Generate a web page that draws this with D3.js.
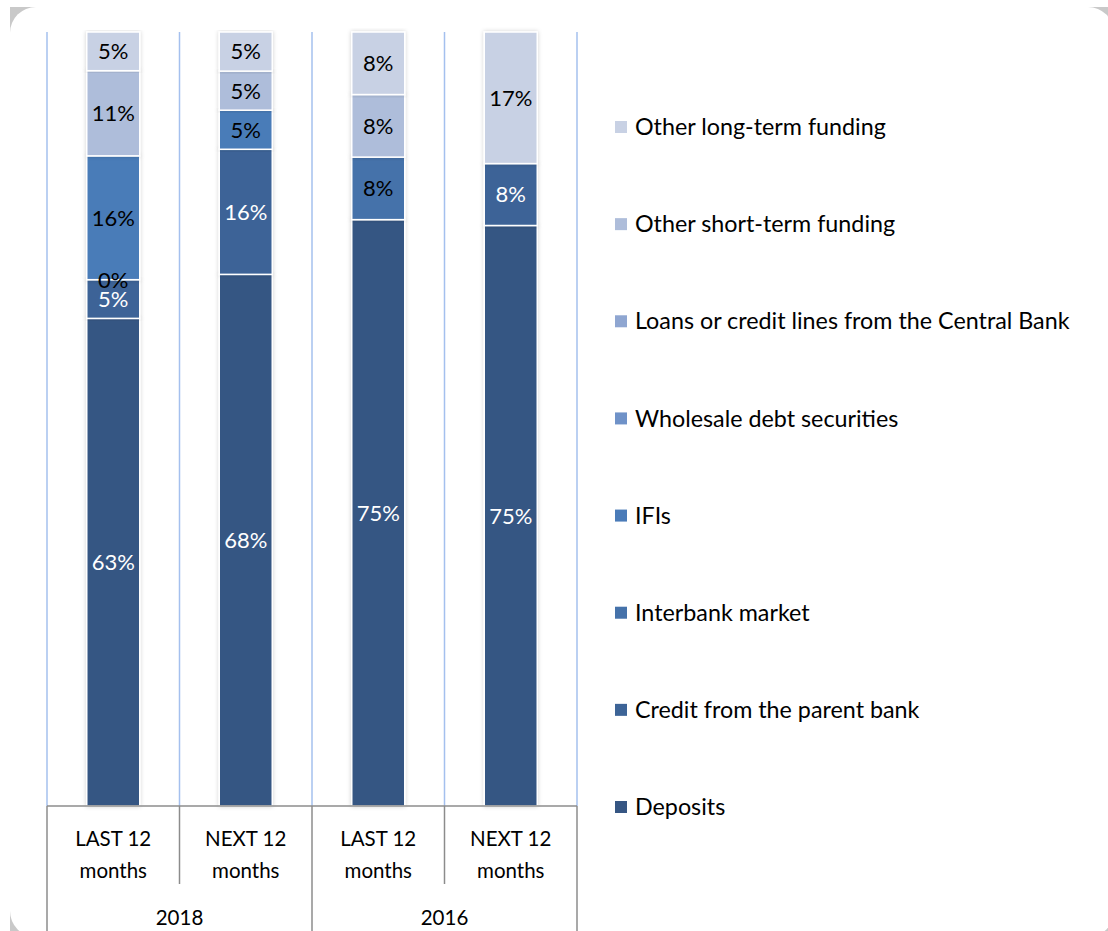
<!DOCTYPE html>
<html>
<head>
<meta charset="utf-8">
<script src="https://cdn.jsdelivr.net/npm/d3@7"></script>
<style>
  body { margin: 0; background: #fff; }
  text { font-family: Lato, "Open Sans", sans-serif; }
</style>
</head>
<body>
<div id="chart"></div>
<script>
// categories (bars) and their groups
var periods = ["LAST 12|months", "NEXT 12|months", "LAST 12|months", "NEXT 12|months"];
var years = ["2018", "2016"];

// series, bottom to top
var seriesNames = ["Deposits", "Credit from the parent bank", "Interbank market", "IFIs",
  "Wholesale debt securities", "Loans or credit lines from the Central Bank",
  "Other short-term funding", "Other long-term funding"];
var deposits     = [63, 68, 75, 75];
var creditParent = [5, 16, null, 8];
var interbank    = [0, null, 8, null];
var ifis         = [16, 5, null, null];
var wholesale    = [null, null, null, null];
var loansCB      = [null, null, null, null];
var otherShort   = [11, 5, 8, null];
var otherLong    = [5, 5, 8, 17];

var colors = ["#365683", "#3d6497", "#4572aa", "#4a7bb8", "#6f92c8", "#8fa6d1", "#aebdda", "#c8d1e4"];
var labelColors = ["#fff", "#fff", "#000", "#000", "#000", "#000", "#000", "#000"];

var allSeries = [deposits, creditParent, interbank, ifis, wholesale, loansCB, otherShort, otherLong];

// build table for d3.stack
var table = periods.map(function(p, i) {
  var row = { idx: i };
  seriesNames.forEach(function(s, j) { row[s] = allSeries[j][i] == null ? 0 : allSeries[j][i]; });
  return row;
});

var W = 1108, H = 931;
var svg = d3.select("#chart").append("svg")
  .attr("width", W).attr("height", H);

// card with rounded corners
svg.append("rect").attr("x", 10).attr("y", 7).attr("width", 1104).attr("height", 930).attr("fill", "#c9c9c9");
svg.append("rect").attr("x", 10).attr("y", 7).attr("width", 1104).attr("height", 930).attr("rx", 26).attr("fill", "#fff");

var defs = svg.append("defs");
var f = defs.append("filter").attr("id", "shadow").attr("x", "-20%").attr("y", "-5%").attr("width", "140%").attr("height", "110%");
f.append("feDropShadow").attr("dx", 0).attr("dy", 0).attr("stdDeviation", 2).attr("flood-color", "#000").attr("flood-opacity", 0.18);

var plotLeft = 47, plotRight = 577, plotTop = 32, plotBottom = 806;

var x = d3.scaleBand()
  .domain(periods.map(function(d, i) { return i; }))
  .range([plotLeft, plotRight])
  .paddingInner(0.6)
  .paddingOuter(0.3);

var y = d3.scaleLinear().domain([0, 1]).range([plotBottom, plotTop]);

var stack = d3.stack().keys(seriesNames).offset(d3.stackOffsetExpand);
var stacked = stack(table);

// vertical gridlines at category boundaries
var bounds = d3.range(periods.length + 1).map(function(i) { return plotLeft + i * x.step(); });
svg.append("g").selectAll("line").data(bounds).enter().append("line")
  .attr("x1", function(d) { return d; }).attr("x2", function(d) { return d; })
  .attr("y1", plotTop).attr("y2", plotBottom)
  .attr("stroke", "#a4c0ee").attr("stroke-width", 1.5);

// bars
var layers = svg.append("g").selectAll("g").data(stacked).enter().append("g")
  .attr("fill", function(d, i) { return colors[i]; });

layers.selectAll("rect").data(function(d) { return d; }).enter().append("rect")
  .attr("x", function(d) { return x(d.data.idx); })
  .attr("width", x.bandwidth())
  .attr("y", function(d) { return y(d[1]); })
  .attr("height", function(d) { return y(d[0]) - y(d[1]); })
  .attr("stroke", "#fff").attr("stroke-width", 1.5)
  .attr("filter", "url(#shadow)");

// data labels
var labelG = svg.append("g");
stacked.forEach(function(layer, i) {
  labelG.append("g").selectAll("text")
    .data(layer.filter(function(d) { return allSeries[i][d.data.idx] != null; }))
    .enter().append("text")
    .attr("x", function(d) { return x(d.data.idx) + x.bandwidth() / 2; })
    .attr("y", function(d) { return (y(d[0]) + y(d[1])) / 2; })
    .attr("dy", "0.36em")
    .attr("text-anchor", "middle")
    .attr("font-size", 22)
    .attr("fill", labelColors[i])
    .text(function(d) { return allSeries[i][d.data.idx] + "%"; });
});

// category axis
var ax = svg.append("g").attr("stroke", "#8c8c8c").attr("stroke-width", 1.5);
ax.append("line").attr("x1", plotLeft).attr("x2", plotRight).attr("y1", plotBottom).attr("y2", plotBottom);
bounds.forEach(function(b, i) {
  var full = (i % 2 === 0);
  ax.append("line").attr("x1", b).attr("x2", b).attr("y1", plotBottom).attr("y2", full ? H : 884);
});

var lab = svg.append("g").attr("font-size", 20.5).attr("fill", "#000").attr("text-anchor", "middle");
periods.forEach(function(p, i) {
  var parts = p.split("|");
  var cx = x(i) + x.bandwidth() / 2;
  lab.append("text").attr("x", cx).attr("y", 846).text(parts[0]);
  lab.append("text").attr("x", cx).attr("y", 878).text(parts[1]);
});
years.forEach(function(yr, i) {
  lab.append("text").attr("x", plotLeft + (2 * i + 1) * x.step()).attr("y", 925).text(yr);
});

// legend (top = last series)
var legendData = seriesNames.map(function(s, i) { return { name: s, color: colors[i] }; }).reverse();
var ly = d3.scalePoint().domain(legendData.map(function(d) { return d.name; })).range([127, 807]);
var lg = svg.append("g").selectAll("g").data(legendData).enter().append("g")
  .attr("transform", function(d) { return "translate(615," + ly(d.name) + ")"; });
lg.append("rect").attr("x", 0).attr("y", -6).attr("width", 12).attr("height", 12)
  .attr("fill", function(d) { return d.color; });
lg.append("text").attr("x", 20).attr("dy", "0.35em").attr("font-size", 23.3).attr("fill", "#000")
  .text(function(d) { return d.name; });
</script>
</body>
</html>
